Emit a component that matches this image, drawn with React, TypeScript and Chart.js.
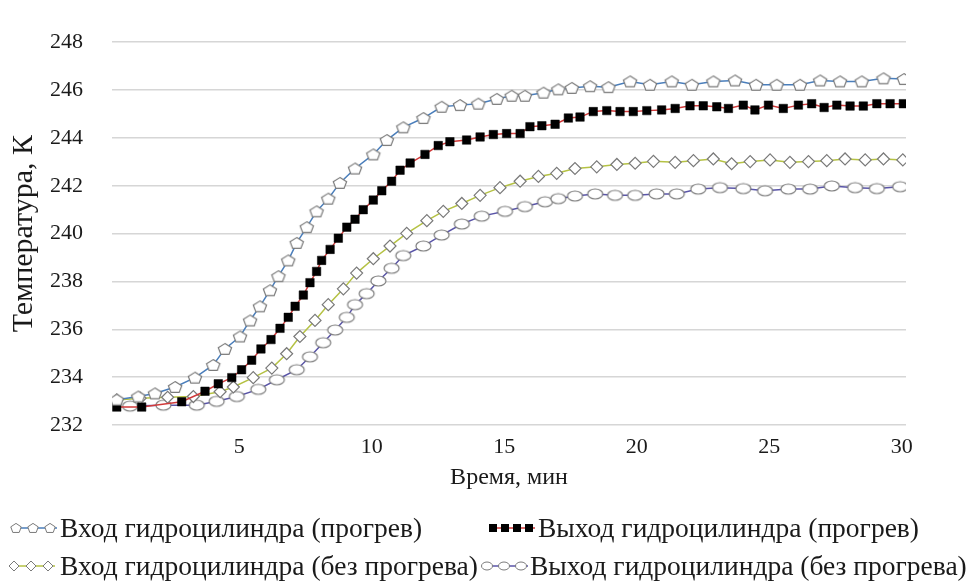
import React, { useEffect, useRef } from 'react';
import { Chart, registerables } from 'chart.js';

Chart.register(...registerables);

// ---------- data ----------
const seriesLabels = [
  'Вход гидроцилиндра (прогрев)',
  'Выход гидроцилиндра (прогрев)',
  'Вход гидроцилиндра (без прогрева)',
  'Выход гидроцилиндра (без прогрева)',
];

const xTitle = 'Время, мин';
const yTitle = 'Температура, К';
const xTickValues = [5, 10, 15, 20, 25, 30];
const yTickValues = [232, 234, 236, 238, 240, 242, 244, 246, 248];

const inWarmTime = [0.38, 1.19, 1.82, 2.58, 3.33, 4.02, 4.46, 5.03, 5.41, 5.78, 6.16, 6.48, 6.85, 7.17, 7.55, 7.92, 8.36, 8.8, 9.37, 10.06, 10.57, 11.19, 11.95, 12.64, 13.33, 14.02, 14.72, 15.28, 15.78, 16.48, 17.04, 17.55, 18.24, 18.93, 19.75, 20.5, 21.32, 22.08, 22.89, 23.71, 24.5, 25.28, 26.16, 26.92, 27.67, 28.49, 29.31, 30.08];
const inWarmTemp = [233.06, 233.19, 233.32, 233.59, 233.98, 234.51, 235.18, 235.7, 236.37, 236.96, 237.63, 238.22, 238.88, 239.61, 240.27, 240.93, 241.46, 242.12, 242.72, 243.31, 243.91, 244.44, 244.83, 245.3, 245.37, 245.43, 245.63, 245.76, 245.76, 245.89, 246.03, 246.09, 246.16, 246.12, 246.36, 246.22, 246.36, 246.22, 246.36, 246.4, 246.22, 246.22, 246.22, 246.4, 246.36, 246.36, 246.49, 246.46];

const outWarmTime = [0.38, 1.32, 2.83, 3.71, 4.21, 4.72, 5.09, 5.47, 5.82, 6.2, 6.54, 6.85, 7.11, 7.42, 7.67, 7.92, 8.11, 8.43, 8.74, 9.06, 9.37, 9.68, 10.06, 10.38, 10.75, 11.07, 11.45, 12.01, 12.51, 12.95, 13.58, 14.09, 14.59, 15.09, 15.6, 15.97, 16.42, 16.92, 17.42, 17.86, 18.36, 18.87, 19.37, 19.87, 20.38, 20.94, 21.45, 22.01, 22.51, 23.02, 23.46, 24.02, 24.46, 24.97, 25.53, 26.1, 26.6, 27.07, 27.55, 28.05, 28.55, 29.06, 29.56, 30.06];
const outWarmTemp = [232.75, 232.75, 232.97, 233.41, 233.72, 233.98, 234.31, 234.71, 235.18, 235.57, 236.04, 236.5, 236.96, 237.43, 237.95, 238.42, 238.88, 239.34, 239.81, 240.27, 240.6, 241.0, 241.4, 241.79, 242.19, 242.65, 242.95, 243.31, 243.68, 243.84, 243.91, 244.04, 244.14, 244.18, 244.18, 244.47, 244.51, 244.57, 244.83, 244.87, 245.1, 245.14, 245.1, 245.1, 245.14, 245.17, 245.23, 245.34, 245.34, 245.3, 245.23, 245.37, 245.17, 245.37, 245.23, 245.37, 245.43, 245.27, 245.37, 245.33, 245.33, 245.43, 245.43, 245.43];

const inColdTime = [0.38, 1.26, 2.3, 3.27, 4.28, 4.78, 5.53, 6.23, 6.79, 7.29, 7.86, 8.36, 8.93, 9.43, 10.06, 10.69, 11.32, 12.08, 12.7, 13.4, 14.09, 14.84, 15.6, 16.29, 16.98, 17.67, 18.49, 19.25, 19.94, 20.63, 21.45, 22.14, 22.89, 23.58, 24.28, 25.03, 25.78, 26.48, 27.17, 27.86, 28.62, 29.31, 30.04];
const inColdTemp = [233.05, 233.12, 233.16, 233.19, 233.39, 233.59, 233.98, 234.38, 234.98, 235.7, 236.37, 237.03, 237.69, 238.35, 238.95, 239.48, 240.01, 240.54, 240.93, 241.26, 241.6, 241.92, 242.19, 242.39, 242.52, 242.72, 242.79, 242.89, 242.94, 243.02, 242.98, 243.05, 243.12, 242.92, 243.01, 243.08, 242.98, 243.01, 243.05, 243.12, 243.08, 243.12, 243.08];

const outColdTime = [0.88, 2.14, 3.4, 4.15, 4.91, 5.72, 6.42, 7.17, 7.67, 8.17, 8.62, 9.06, 9.37, 9.81, 10.25, 10.75, 11.19, 11.95, 12.64, 13.4, 14.15, 15.03, 15.78, 16.54, 17.04, 17.67, 18.43, 19.18, 19.94, 20.75, 21.51, 22.32, 23.14, 24.02, 24.84, 25.72, 26.54, 27.36, 28.24, 29.06, 29.94];
const outColdTemp = [232.79, 232.83, 232.83, 232.99, 233.19, 233.49, 233.89, 234.31, 234.85, 235.44, 235.97, 236.5, 237.03, 237.49, 238.02, 238.55, 239.08, 239.48, 239.94, 240.4, 240.73, 240.93, 241.13, 241.33, 241.46, 241.57, 241.66, 241.6, 241.6, 241.66, 241.66, 241.86, 241.92, 241.88, 241.79, 241.86, 241.86, 241.99, 241.92, 241.88, 241.96];

// ---------- styling ----------
const FONT = '"Liberation Serif", "Times New Roman", serif';
const TEXT = '#1a1a1a';
const MARKER_EDGE = '#7a7a7a';
const lineColors = ['#4a7ebb', '#d03a3a', '#b5c244', '#5a55a8'];

function pentagonMarker(w: number, h: number) {
  const c = document.createElement('canvas');
  c.width = w + 4;
  c.height = h + 4;
  const ctx = c.getContext('2d')!;
  const cx = c.width / 2, cy = c.height / 2;
  ctx.beginPath();
  for (let k = 0; k < 5; k++) {
    const a = -Math.PI / 2 + (k * 2 * Math.PI) / 5;
    const px = cx + (w / 2) * Math.cos(a);
    const py = cy + (h / 2) * Math.sin(a) + h * 0.05;
    if (k === 0) ctx.moveTo(px, py); else ctx.lineTo(px, py);
  }
  ctx.closePath();
  ctx.fillStyle = '#ffffff';
  ctx.fill();
  ctx.lineWidth = 1.2;
  ctx.strokeStyle = MARKER_EDGE;
  ctx.stroke();
  return c;
}

function ellipseMarker(w: number, h: number) {
  const c = document.createElement('canvas');
  c.width = w + 4;
  c.height = h + 4;
  const ctx = c.getContext('2d')!;
  ctx.beginPath();
  ctx.ellipse(c.width / 2, c.height / 2, w / 2, h / 2, 0, 0, Math.PI * 2);
  ctx.fillStyle = '#ffffff';
  ctx.fill();
  ctx.lineWidth = 1.2;
  ctx.strokeStyle = MARKER_EDGE;
  ctx.stroke();
  return c;
}

function toPoints(xs: number[], ys: number[]) {
  return xs.map((x, i) => ({ x, y: ys[i] }));
}

function Sample({ kind }: { kind: number }) {
  const w = 50, h = 20, cy = 10;
  const col = lineColors[kind];
  const xs = kind === 1 ? [6, 18, 30, 42] : [7, 24, 41];
  return (
    <svg width={w} height={h} style={{ display: 'block' }}>
      <line x1={2} y1={cy} x2={w - 2} y2={cy} stroke={col} strokeWidth={1.5} />
      {xs.map((x, i) => {
        if (kind === 0) {
          const pts = [0, 1, 2, 3, 4].map(k => {
            const a = -Math.PI / 2 + (k * 2 * Math.PI) / 5;
            return `${x + 5.5 * Math.cos(a)},${cy + 0.4 + 5 * Math.sin(a)}`;
          }).join(' ');
          return <polygon key={i} points={pts} fill="#fff" stroke={MARKER_EDGE} strokeWidth={1} />;
        }
        if (kind === 1) return <rect key={i} x={x - 4} y={cy - 4} width={8} height={8} fill="#000" />;
        if (kind === 2) return <polygon key={i} points={`${x - 5},${cy} ${x},${cy - 5} ${x + 5},${cy} ${x},${cy + 5}`} fill="#fff" stroke={MARKER_EDGE} strokeWidth={1} />;
        return <ellipse key={i} cx={x} cy={cy} rx={5.5} ry={4} fill="#fff" stroke={MARKER_EDGE} strokeWidth={1} />;
      })}
    </svg>
  );
}

const legendItems = [
  { kind: 0, sx: 9, tx: 60, cy: 528 },
  { kind: 1, sx: 487, tx: 538, cy: 528 },
  { kind: 2, sx: 7, tx: 60, cy: 566 },
  { kind: 3, sx: 480, tx: 530, cy: 566 },
];

export default function App() {
  const canvasRef = useRef<HTMLCanvasElement | null>(null);

  useEffect(() => {
    const canvas = canvasRef.current;
    if (!canvas) return;
    const pent = pentagonMarker(14, 12);
    const ell = ellipseMarker(15, 10);

    const chart = new Chart(canvas, {
      type: 'scatter',
      data: {
        datasets: [
          {
            label: seriesLabels[0],
            data: toPoints(inWarmTime, inWarmTemp),
            showLine: true,
            borderColor: lineColors[0],
            borderWidth: 1.5,
            pointStyle: pent as any,
            pointRadius: 7,
            tension: 0,
          },
          {
            label: seriesLabels[1],
            data: toPoints(outWarmTime, outWarmTemp),
            showLine: true,
            borderColor: lineColors[1],
            borderWidth: 1.5,
            pointStyle: 'rect',
            pointRadius: 6,
            pointBackgroundColor: '#000',
            pointBorderColor: '#000',
            pointBorderWidth: 0.5,
            tension: 0,
          },
          {
            label: seriesLabels[2],
            data: toPoints(inColdTime, inColdTemp),
            showLine: true,
            borderColor: lineColors[2],
            borderWidth: 1.5,
            pointStyle: 'rectRot',
            pointRadius: 6,
            pointBackgroundColor: '#fff',
            pointBorderColor: MARKER_EDGE,
            pointBorderWidth: 1.2,
            tension: 0,
          },
          {
            label: seriesLabels[3],
            data: toPoints(outColdTime, outColdTemp),
            showLine: true,
            borderColor: lineColors[3],
            borderWidth: 1.5,
            pointStyle: ell as any,
            pointRadius: 7,
            tension: 0,
          },
        ],
      },
      options: {
        responsive: false,
        animation: false,
        events: [],
        layout: { padding: { left: 0, top: 22, right: 63, bottom: 81 } },
        plugins: {
          legend: { display: false },
          tooltip: { enabled: false },
        },
        scales: {
          x: {
            type: 'linear',
            min: 0.2,
            max: 30.16,
            border: { display: false },
            grid: { display: false, drawTicks: false },
            afterBuildTicks: (scale: any) => {
              scale.ticks = xTickValues.map(v => ({ value: v }));
            },
            afterFit: (scale: any) => {
              scale.height = 75;
            },
            ticks: {
              padding: 9,
              color: TEXT,
              font: { family: FONT, size: 22 },
              maxRotation: 0,
              autoSkip: false,
            },
            title: {
              display: true,
              text: xTitle,
              color: TEXT,
              font: { family: FONT, size: 24 },
              padding: { top: 0, bottom: 8 },
            },
          },
          y: {
            type: 'linear',
            min: 232,
            max: 248,
            border: { display: false },
            grid: { color: '#d6d6d6', lineWidth: 1.6, drawTicks: false },
            afterBuildTicks: (scale: any) => {
              scale.ticks = yTickValues.map(v => ({ value: v }));
            },
            afterFit: (scale: any) => {
              scale.width = 112;
            },
            ticks: {
              padding: 29,
              color: TEXT,
              font: { family: FONT, size: 22 },
            },
            title: {
              display: true,
              text: yTitle,
              color: TEXT,
              font: { family: FONT, size: 30 },
              padding: { top: 6, bottom: 0 },
            },
          },
        },
      },
    });
    return () => chart.destroy();
  }, []);

  return (
    <div style={{ position: 'absolute', left: 0, top: 0, width: 969, height: 581, background: '#fff', overflow: 'hidden' }}>
      <canvas ref={canvasRef} width={969} height={581} style={{ position: 'absolute', left: 0, top: 0 }} />
      {legendItems.map((it, i) => (
        <React.Fragment key={i}>
          <div style={{ position: 'absolute', left: it.sx, top: it.cy - 10 }}>
            <Sample kind={it.kind} />
          </div>
          <div
            style={{
              position: 'absolute',
              left: it.tx,
              top: it.cy - 16,
              height: 32,
              lineHeight: '32px',
              fontFamily: FONT,
              fontSize: 27.5,
              color: TEXT,
              whiteSpace: 'nowrap',
            }}
          >
            {seriesLabels[it.kind]}
          </div>
        </React.Fragment>
      ))}
    </div>
  );
}
